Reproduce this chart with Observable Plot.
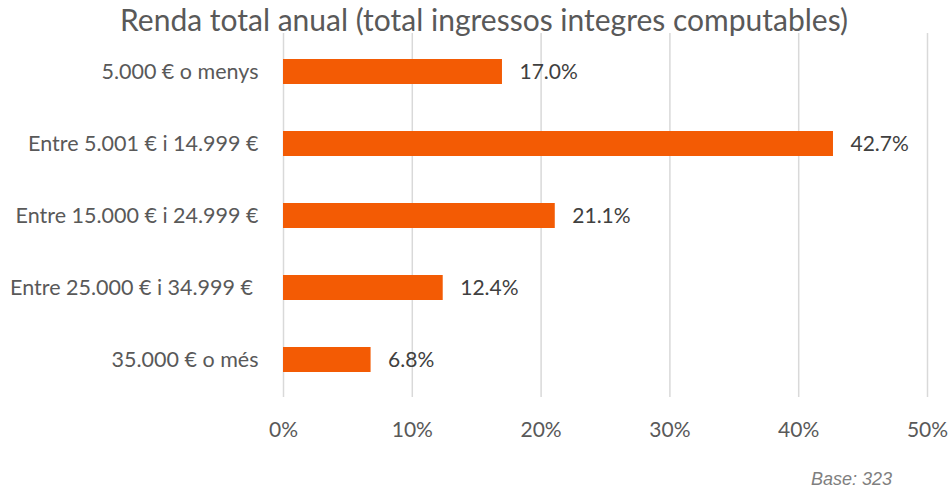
<!DOCTYPE html>
<html><head><meta charset="utf-8">
<script src="https://cdn.jsdelivr.net/npm/d3@7"></script>
<script src="https://cdn.jsdelivr.net/npm/@observablehq/plot@0.6"></script>
<style>
body{margin:0;background:#fff;font-family:Lato,"Open Sans",sans-serif;}
#wrap{width:950px;height:490px;position:relative;overflow:hidden;}
#title{height:31px;line-height:38px;text-align:center;font-size:30px;color:#595959;padding-left:18px;white-space:nowrap;}
#chart svg{display:block;}
#caption{position:absolute;right:58px;top:469px;font-size:18px;line-height:20px;font-style:italic;color:#7f7f7f;font-family:"Liberation Sans",Arial,sans-serif;}
</style></head>
<body><div id="wrap"><div id="title">Renda total anual (total ingressos integres computables)</div><div id="chart"></div><div id="caption">Base: 323</div></div>
<script>
const categories = ["5.000 € o menys","Entre 5.001 € i 14.999 €","Entre 15.000 € i 24.999 €","Entre 25.000 € i 34.999 €\u00a0","35.000 € o més"];
const values = [17.0, 42.7, 21.1, 12.4, 6.8];
const xTicks = [0, 10, 20, 30, 40, 50];
const data = categories.map((c, i) => ({cat: c, v: values[i]}));
const chart = Plot.plot({
  width: 950, height: 459,
  marginLeft: 283, marginRight: 23, marginTop: 2, marginBottom: 93,
  style: {fontFamily: "Lato, 'Open Sans', sans-serif", color: "#595959", background: "#fff"},
  x: {domain: [0, 50], ticks: xTicks, tickFormat: d => d + "%", label: null},
  y: {domain: categories, paddingInner: 0.657, paddingOuter: 0.3285, label: null},
  marks: [
    Plot.gridX(xTicks, {stroke: "#d9d9d9", strokeOpacity: 1, strokeWidth: 1.5}),
    Plot.axisX({ticks: xTicks, tickFormat: d => d + "%", tickSize: 0, tickPadding: 25, fontSize: 21, label: null, anchor: "bottom"}),
    Plot.axisY({tickSize: 0, tickPadding: 25, fontSize: 21.5, label: null}),
    Plot.barX(data, {x: "v", y: "cat", fill: "#F35B04"}),
    Plot.text(data, {x: "v", y: "cat", text: d => d.v.toFixed(1) + "%", textAnchor: "start", dx: 17, fontSize: 21, fill: "#404040"})
  ]
});
document.getElementById("chart").appendChild(chart);
</script></body></html>
